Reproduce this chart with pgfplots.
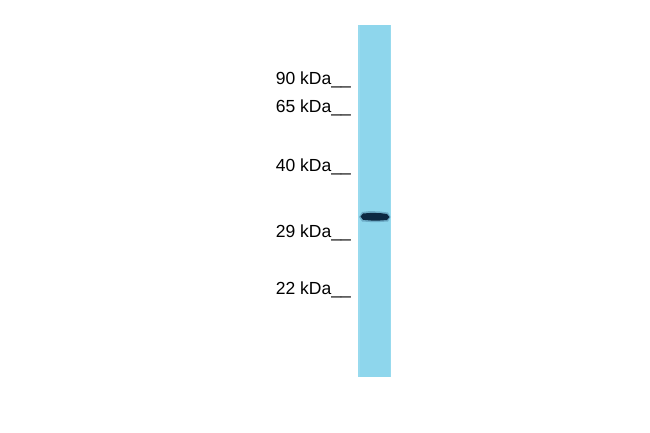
\documentclass[border=0pt]{standalone}
\usepackage{pgfplots}
\pgfplotsset{compat=1.18}
\usepackage{fontspec}
\setmainfont{Liberation Sans}

\definecolor{lane}{RGB}{142,214,236}
\definecolor{laneedge}{RGB}{160,222,240}
\definecolor{bandhalo}{RGB}{60,110,145}
\definecolor{bandcore}{RGB}{12,40,66}

\begin{document}
\begin{tikzpicture}
\begin{axis}[
    width=650pt, height=432pt,
    scale only axis,
    xmin=0, xmax=650, ymin=0, ymax=432,
    y dir=reverse,
    hide axis,
    clip=false,
]
% background
\addplot[draw=none, fill=white] coordinates {(0,0) (650,0) (650,432) (0,432)} -- cycle;
% lane
\addplot[draw=none, fill=lane] coordinates {(358,25) (391,25) (391,377) (358,377)} -- cycle;
\addplot[draw=none, fill=laneedge, opacity=0.6] coordinates {(358,25) (359.5,25) (359.5,377) (358,377)} -- cycle;
\addplot[draw=none, fill=laneedge, opacity=0.6] coordinates {(389.5,25) (391,25) (391,377) (389.5,377)} -- cycle;
% band
\addplot[draw=none, fill=bandhalo, opacity=0.4] coordinates {
  (359,217) (362,212) (370,211) (380,211.5) (388,212.5) (390.5,217)
  (388,221.5) (380,222) (370,222) (362,221.5)} -- cycle;
\addplot[draw=none, fill=bandcore] coordinates {
  (360.5,216.5) (363,213.5) (372,212.8) (381,213.2) (387,214) (389.5,217)
  (387,220) (380,220.5) (371,220.5) (363,219.8)} -- cycle;
% marker labels
\foreach \yy/\lab in {84/90, 112/65, 171/40, 237/29, 294/22} {
  \edef\tmp{\noexpand\node[anchor=base east, inner sep=0pt,
      font=\noexpand\fontsize{17.5}{17.5}\noexpand\selectfont]
      at (axis cs:351,\yy) {\lab\space kDa\noexpand\_\noexpand\_};}
  \tmp
}
\end{axis}
\end{tikzpicture}
\end{document}
